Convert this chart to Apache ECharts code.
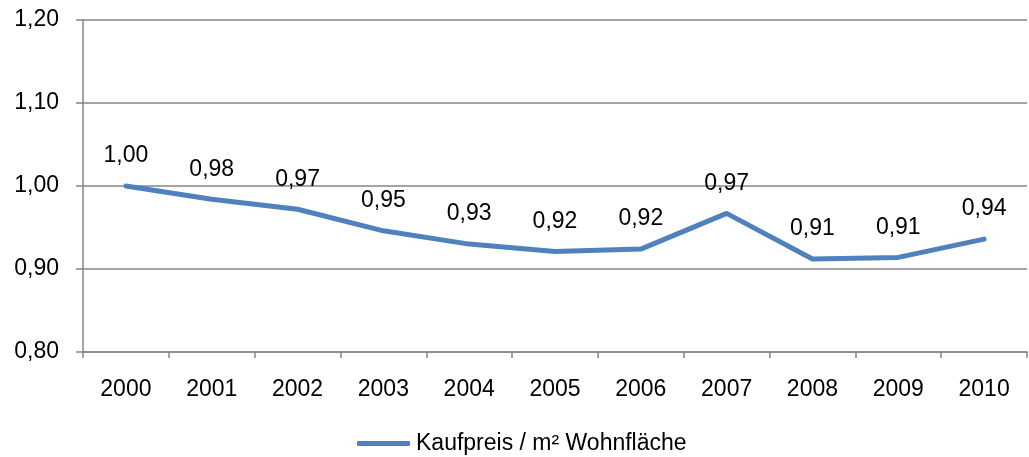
<!DOCTYPE html>
<html>
<head>
<meta charset="utf-8">
<script src="https://cdn.jsdelivr.net/npm/echarts@6/dist/echarts.min.js"></script>
<style>
  html, body { margin: 0; padding: 0; background: #fff; }
  #chart { width: 1029px; height: 457px; }
</style>
</head>
<body>
<div id="chart"></div>
<script>
  // Kaufpreis-Index pro m² Wohnfläche, 2000 = 1,00
  const years = ["2000", "2001", "2002", "2003", "2004", "2005", "2006", "2007", "2008", "2009", "2010"];
  const kaufpreis = [1.000, 0.984, 0.972, 0.946, 0.930, 0.921, 0.924, 0.967, 0.912, 0.914, 0.936];
  const seriesName = "Kaufpreis / m² Wohnfläche";

  const fmt = v => v.toFixed(2).replace(".", ",");
  const font = "'Liberation Sans', 'Noto Sans', sans-serif";

  const chart = echarts.init(document.getElementById("chart"));

  chart.setOption({
    animation: false,
    color: ["#4F81BD"],
    grid: { left: 83, right: 2, top: 20, bottom: 105 },
    legend: {
      bottom: 2,
      left: 357,
      padding: 0,
      itemWidth: 53,
      itemHeight: 5,
      itemGap: 6,
      icon: "roundRect",
      textStyle: { fontFamily: font, fontSize: 23, color: "#000", padding: [0, 0, 0, 1] },
      data: [seriesName]
    },
    xAxis: {
      type: "category",
      data: years,
      boundaryGap: true,
      axisLine: { lineStyle: { color: "#868686", width: 1.5 } },
      axisTick: { show: true, length: 6, alignWithLabel: false, lineStyle: { color: "#868686", width: 1.5 } },
      axisLabel: { fontFamily: font, fontSize: 23, color: "#000", margin: 26 }
    },
    yAxis: {
      type: "value",
      min: 0.8,
      max: 1.2,
      interval: 0.1,
      axisLine: { show: true, lineStyle: { color: "#868686", width: 1.5 } },
      axisTick: { show: true, length: 7, lineStyle: { color: "#868686", width: 1.5 } },
      splitLine: { lineStyle: { color: "#868686", width: 1.5 } },
      axisLabel: { fontFamily: font, fontSize: 23, color: "#000", margin: 24, padding: [5, 0, 0, 0], formatter: v => fmt(v) }
    },
    series: [{
      name: seriesName,
      type: "line",
      data: kaufpreis,
      symbol: "circle",
      symbolSize: 1,
      showSymbol: true,
      lineStyle: { width: 5, cap: "round", join: "round" },
      label: {
        show: true,
        position: "top",
        distance: 18,
        fontFamily: font,
        fontSize: 23,
        color: "#000",
        formatter: p => fmt(p.value)
      }
    }]
  });

  window.addEventListener("resize", () => chart.resize());
</script>
</body>
</html>
